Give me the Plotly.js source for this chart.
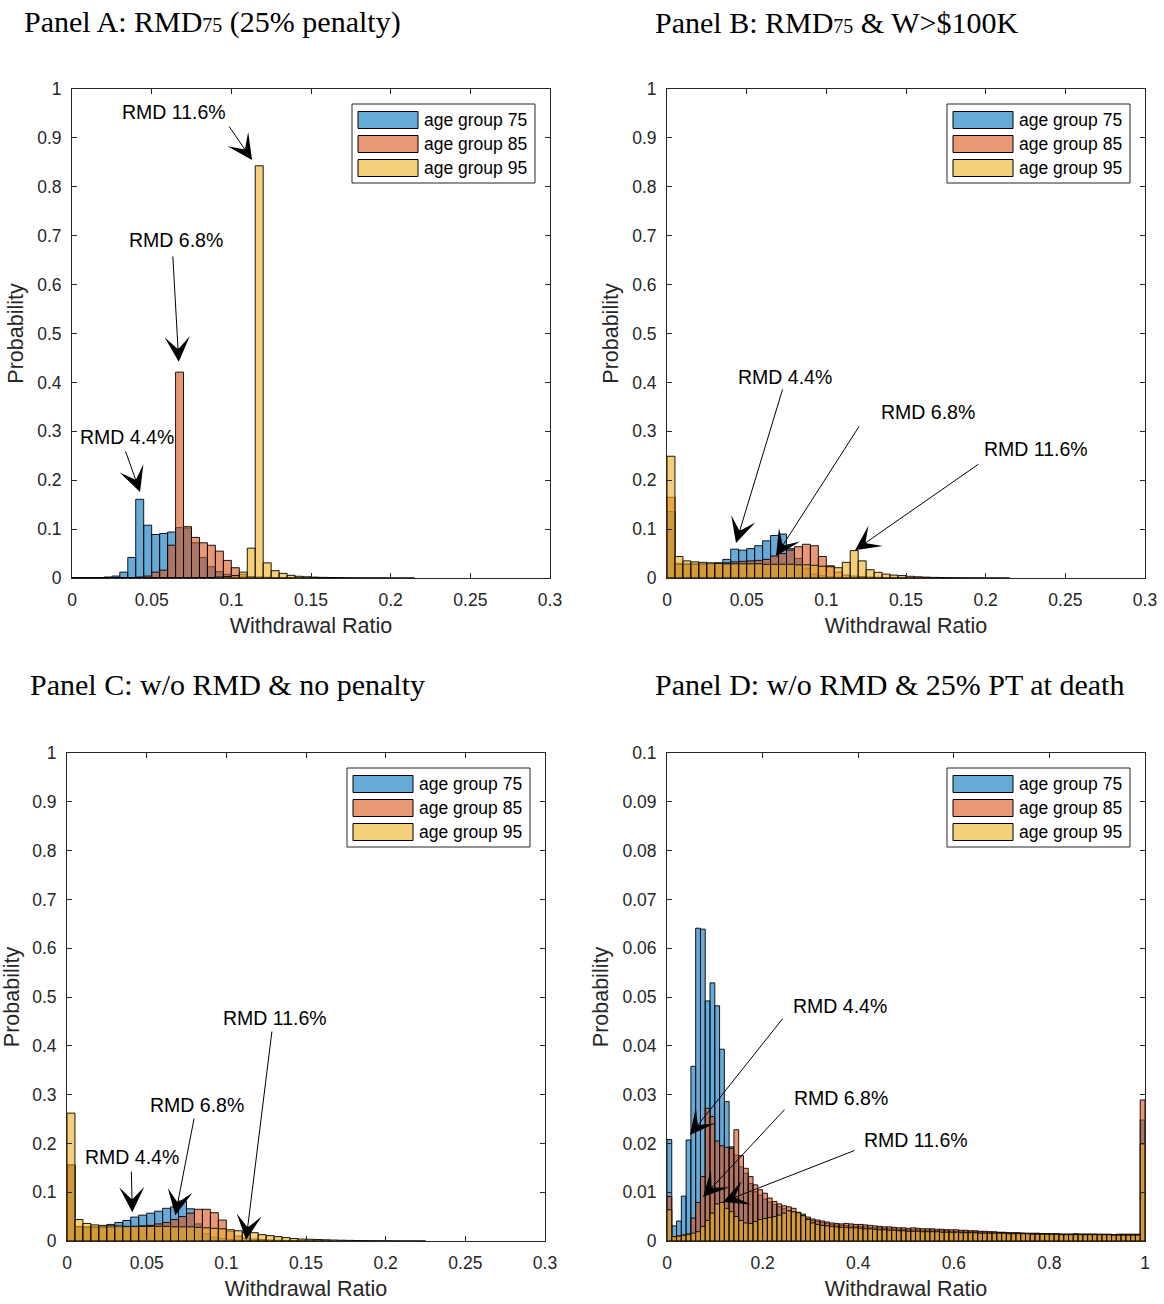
<!DOCTYPE html>
<html>
<head>
<meta charset="utf-8">
<script src="https://cdn.plot.ly/plotly-3.0.1.min.js"></script>
<style>
html,body{margin:0;padding:0;background:#fff;}
#chart{width:1164px;height:1304px;}
</style>
</head>
<body>
<div id="chart"></div>
<script>
// ---------------- DATA ----------------
const seriesNames = ['age group 75', 'age group 85', 'age group 95'];
const rmdLabels = ['RMD 4.4%', 'RMD 6.8%', 'RMD 11.6%'];

// bin widths of the histograms (withdrawal ratio)
const binWidthNarrow = 0.005;   // panels A, B, C (0 .. 0.3)
const binWidthWide = 0.01;      // panel D (0 .. 1)

// Panel A: RMD75 (25% penalty)
const panelA_age75 = [0,0,0,0.0005,0.002,0.004,0.012,0.042,0.161,0.108,
  0.089,0.091,0.094,0.103,0.102,0.072,0.042,0.023,0.013,0.0075,
  0.004,0.0025,0.0015,0.001,0.0008,0.0005,0.0004,0.0003,0.0002,0.0002,
  0.0001,0.0001,0.0001];
const panelA_age85 = [0,0,0,0,0,0,0.0005,0.001,0.002,0.004,
  0.012,0.016,0.067,0.421,0.105,0.083,0.072,0.067,0.055,0.036,
  0.021,0.0075,0.003,0.002,0.0015,0.001,0.0008,0.0006,0.0004,0.0003,
  0.0002,0.0002,0.0001,0.0001];
const panelA_age95 = [0,0,0,0,0,0,0,0,0,0,
  0,0,0,0,0,0,0.0005,0.001,0.002,0.003,
  0.005,0.012,0.061,0.843,0.031,0.015,0.0095,0.0055,0.0035,0.0025,
  0.0018,0.0013,0.001,0.0008,0.0006,0.0005,0.0004,0.0003,0.0003,0.0002,
  0.0002,0.0001,0.0001];

// Panel B: RMD75 & W>$100K
const panelB_age75 = [0.136,0.030,0.029,0.029,0.029,0.030,0.031,0.038,0.059,0.057,
  0.060,0.066,0.076,0.087,0.090,0.060,0.040,0.020,0.008,0.005,
  0.003,0.002,0.0015,0.001,0.0008,0.0005,0.0004,0.0003,0.0002,0.0001];
const panelB_age85 = [0.165,0.028,0.028,0.028,0.028,0.029,0.030,0.031,0.033,0.034,
  0.035,0.036,0.038,0.045,0.050,0.057,0.064,0.069,0.066,0.044,
  0.025,0.012,0.006,0.004,0.003,0.002,0.0015,0.001,0.0008,0.0005,
  0.0003,0.0002,0.0001];
const panelB_age95 = [0.249,0.044,0.035,0.033,0.032,0.031,0.030,0.029,0.029,0.029,
  0.029,0.029,0.028,0.028,0.028,0.028,0.027,0.027,0.026,0.024,
  0.023,0.021,0.032,0.056,0.035,0.017,0.0116,0.008,0.006,0.005,
  0.0035,0.0025,0.0018,0.0013,0.001,0.0008,0.0006,0.0005,0.0004,0.0003,
  0.0002,0.0002,0.0001];

// Panel C: w/o RMD & no penalty
const panelC_age75 = [0.155,0.028,0.028,0.029,0.030,0.034,0.038,0.042,0.049,0.053,
  0.057,0.061,0.067,0.070,0.082,0.066,0.035,0.015,0.008,0.005,
  0.003,0.002,0.0015,0.001,0.0008,0.0005,0.0004,0.0003,0.0002,0.0001];
const panelC_age85 = [0.156,0.030,0.029,0.028,0.028,0.028,0.029,0.029,0.030,0.031,
  0.032,0.035,0.038,0.044,0.050,0.057,0.065,0.065,0.058,0.043,
  0.020,0.010,0.006,0.004,0.003,0.002,0.0015,0.001,0.0008,0.0005,
  0.0003,0.0002,0.0001];
const panelC_age95 = [0.262,0.044,0.036,0.033,0.032,0.031,0.031,0.030,0.030,0.030,
  0.030,0.030,0.030,0.029,0.029,0.029,0.028,0.027,0.026,0.025,
  0.023,0.021,0.018,0.017,0.013,0.011,0.009,0.007,0.005,0.004,
  0.0035,0.003,0.0025,0.002,0.0016,0.0013,0.001,0.0008,0.0006,0.0005,
  0.0004,0.0003,0.0002,0.0002,0.0001];

// Panel D: w/o RMD & 25% PT at death
const panelD_age75 = [0.0208,0.0031,0.0041,0.0092,0.0207,0.0358,0.0641,0.0639,0.0492,0.0529,
  0.0482,0.0393,0.0286,0.0193,0.0176,0.0152,0.0139,0.0118,0.0101,0.0094,
  0.0086,0.0080,0.0075,0.0070,0.0066,0.0062,0.0059,0.0055,0.0051,0.0046,
  0.0042,0.0040,0.0038,0.0036,0.0034,0.0033,0.0032,0.0032,0.0031,0.0030,
  0.0030,0.0029,0.0028,0.0027,0.0027,0.0026,0.0025,0.0025,0.0024,0.0024,
  0.0023,0.0023,0.0023,0.0022,0.0022,0.0022,0.0021,0.0021,0.0021,0.0020,
  0.0020,0.0020,0.0019,0.0019,0.0019,0.0018,0.0018,0.0018,0.0017,0.0017,
  0.0017,0.0016,0.0016,0.0016,0.0016,0.0015,0.0015,0.0015,0.0015,0.0015,
  0.0014,0.0014,0.0014,0.0014,0.0014,0.0014,0.0014,0.0014,0.0014,0.0014,
  0.0013,0.0013,0.0013,0.0013,0.0013,0.0013,0.0013,0.0013,0.0013,0.0248];
const panelD_age85 = [0.0091,0.0009,0.0010,0.0012,0.0014,0.0047,0.0079,0.0132,0.0272,0.0255,
  0.0205,0.0195,0.0192,0.0190,0.0228,0.0175,0.0149,0.0132,0.0115,0.0105,
  0.0098,0.0088,0.0081,0.0076,0.0072,0.0070,0.0067,0.0059,0.0055,0.0049,
  0.0045,0.0043,0.0041,0.0039,0.0037,0.0036,0.0035,0.0036,0.0035,0.0034,
  0.0034,0.0033,0.0032,0.0031,0.0030,0.0029,0.0029,0.0028,0.0027,0.0027,
  0.0026,0.0027,0.0026,0.0025,0.0025,0.0025,0.0024,0.0024,0.0023,0.0023,
  0.0023,0.0022,0.0022,0.0021,0.0021,0.0020,0.0020,0.0019,0.0019,0.0018,
  0.0018,0.0017,0.0017,0.0017,0.0016,0.0016,0.0016,0.0016,0.0015,0.0015,
  0.0015,0.0015,0.0014,0.0014,0.0014,0.0015,0.0014,0.0014,0.0014,0.0014,
  0.0014,0.0014,0.0014,0.0013,0.0014,0.0014,0.0014,0.0014,0.0014,0.0289];
const panelD_age95 = [0.0064,0.0009,0.0010,0.0012,0.0014,0.0016,0.0019,0.0030,0.0042,0.0057,
  0.0076,0.0079,0.0067,0.0060,0.0050,0.0042,0.0037,0.0036,0.0040,0.0044,
  0.0046,0.0048,0.0050,0.0053,0.0057,0.0062,0.0060,0.0058,0.0052,0.0044,
  0.0037,0.0034,0.0032,0.0031,0.0030,0.0029,0.0028,0.0028,0.0027,0.0027,
  0.0026,0.0025,0.0025,0.0024,0.0023,0.0023,0.0022,0.0022,0.0021,0.0021,
  0.0020,0.0020,0.0020,0.0019,0.0019,0.0019,0.0019,0.0018,0.0018,0.0018,
  0.0018,0.0017,0.0017,0.0017,0.0017,0.0016,0.0016,0.0016,0.0016,0.0016,
  0.0016,0.0015,0.0015,0.0015,0.0015,0.0015,0.0014,0.0014,0.0014,0.0014,
  0.0014,0.0014,0.0013,0.0013,0.0013,0.0013,0.0013,0.0013,0.0013,0.0013,
  0.0013,0.0013,0.0013,0.0012,0.0012,0.0012,0.0012,0.0012,0.0012,0.0199];

// tick labels
const tickValsRatio = [0, 0.05, 0.1, 0.15, 0.2, 0.25, 0.3];
const tickTextRatio = ['0', '0.05', '0.1', '0.15', '0.2', '0.25', '0.3'];
const tickValsProb = [0, 0.1, 0.2, 0.3, 0.4, 0.5, 0.6, 0.7, 0.8, 0.9, 1];
const tickTextProb = ['0', '0.1', '0.2', '0.3', '0.4', '0.5', '0.6', '0.7', '0.8', '0.9', '1'];
const tickValsRatioD = [0, 0.2, 0.4, 0.6, 0.8, 1];
const tickTextRatioD = ['0', '0.2', '0.4', '0.6', '0.8', '1'];
const tickValsProbD = [0, 0.01, 0.02, 0.03, 0.04, 0.05, 0.06, 0.07, 0.08, 0.09, 0.1];
const tickTextProbD = ['0', '0.01', '0.02', '0.03', '0.04', '0.05', '0.06', '0.07', '0.08', '0.09', '0.1'];

// annotation arrows: [label index, tip x, tip y] per panel
const annotA = { label: [2, 1, 0], tipX: [0.113, 0.067, 0.0427], tipY: [0.855, 0.442, 0.176],
  textX: [0.064, 0.0653, 0.0345], textY: [0.953, 0.691, 0.288] };
const annotB = { label: [0, 1, 2], tipX: [0.0433, 0.0684, 0.118], tipY: [0.0716, 0.045, 0.057],
  textX: [0.0741, 0.1638, 0.2316], textY: [0.411, 0.339, 0.263] };
const annotC = { label: [2, 1, 0], tipX: [0.1124, 0.068, 0.041], tipY: [0.002, 0.053, 0.059],
  textX: [0.1305, 0.0816, 0.0408], textY: [0.457, 0.279, 0.172] };
const annotD = { label: [0, 1, 2], tipX: [0.048, 0.0753, 0.117], tipY: [0.0217, 0.009, 0.008],
  textX: [0.362, 0.364, 0.521], textY: [0.0482, 0.0293, 0.0207] };

// ---------------- STYLE ----------------
const W = 1164, H = 1304;
const px = v => v / W;
const py = v => 1 - v / H;
const fillColors = ['rgba(0,114,189,0.6)', 'rgba(217,83,25,0.6)', 'rgba(237,177,32,0.6)'];
const edgeColor = 'rgba(0,0,0,0.9)';
const sans = 'Liberation Sans, Arial, Helvetica, sans-serif';
const serif = 'Liberation Serif, Times New Roman, serif';
const axisColor = '#262626';

const panels = [
  { id: '', data: [panelA_age75, panelA_age85, panelA_age95], bw: binWidthNarrow, ann: annotA,
    title: 'Panel A: RMD<span style="font-size:20px">75</span> (25% penalty)', titlePos: [22, 22],
    xdom: [72, 550], ydom: [89, 578], xr: [0, 0.3], yr: [0, 1],
    xt: [tickValsRatio, tickTextRatio], yt: [tickValsProb, tickTextProb],
    offs: [[-24, -35], [-6, -107], [-15, -42]] },
  { id: '2', data: [panelB_age75, panelB_age85, panelB_age95], bw: binWidthNarrow, ann: annotB,
    title: 'Panel B: RMD<span style="font-size:20px">75</span> &amp; W&gt;$100K', titlePos: [653, 22],
    xdom: [667, 1145], ydom: [89, 578], xr: [0, 0.3], yr: [0, 1],
    xt: [tickValsRatio, tickTextRatio], yt: [tickValsProb, tickTextProb],
    offs: [[47, -155], [84, -131], [125, -87]] },
  { id: '3', data: [panelC_age75, panelC_age85, panelC_age95], bw: binWidthNarrow, ann: annotC,
    title: 'Panel C: w/o RMD &amp; no penalty', titlePos: [28, 684],
    xdom: [67, 545], ydom: [753, 1241], xr: [0, 0.3], yr: [0, 1],
    xt: [tickValsRatio, tickTextRatio], yt: [tickValsProb, tickTextProb],
    offs: [[26, -210], [19, -98], [-1, -42]] },
  { id: '4', data: [panelD_age75, panelD_age85, panelD_age95], bw: binWidthWide, ann: annotD,
    title: 'Panel D: w/o RMD &amp; 25% PT at death', titlePos: [653, 684],
    xdom: [667, 1145], ydom: [753, 1241], xr: [0, 1], yr: [0, 0.1],
    xt: [tickValsRatioD, tickTextRatioD], yt: [tickValsProbD, tickTextProbD],
    offs: [[94, -118], [83, -89], [133, -52]] }
];

const traces = [];
const annotations = [];
const shapes = [];
const layout = {
  width: W, height: H,
  margin: { l: 0, r: 0, t: 0, b: 0 },
  paper_bgcolor: '#fff', plot_bgcolor: '#fff',
  barmode: 'overlay',
  showlegend: false,
  font: { family: sans, color: '#000' }
};

panels.forEach(p => {
  const xa = 'x' + p.id, ya = 'y' + p.id;
  p.data.forEach((vals, i) => {
    traces.push({
      type: 'bar', name: seriesNames[i], xaxis: xa, yaxis: ya,
      y: vals, x0: p.bw / 2, dx: p.bw, width: p.bw,
      marker: { color: fillColors[i], line: { color: edgeColor, width: 1 } },
      hoverinfo: 'x+y+name'
    });
  });
  const common = {
    showline: true, linecolor: axisColor, linewidth: 1, mirror: 'ticks',
    ticks: 'inside', ticklen: 5, tickcolor: axisColor, tickwidth: 1,
    showgrid: false, zeroline: false, fixedrange: true,
    tickfont: { family: sans, size: 17.5, color: axisColor }
  };
  layout['xaxis' + p.id] = Object.assign({}, common, {
    domain: [px(p.xdom[0]), px(p.xdom[1])], anchor: ya, range: p.xr,
    tickmode: 'array', tickvals: p.xt[0], ticktext: p.xt[1], ticklabelstandoff: 6,
    title: { text: 'Withdrawal Ratio', font: { family: sans, size: 21.5, color: axisColor }, standoff: 8 }
  });
  layout['yaxis' + p.id] = Object.assign({}, common, {
    domain: [py(p.ydom[1]), py(p.ydom[0])], anchor: xa, range: p.yr,
    tickmode: 'array', tickvals: p.yt[0], ticktext: p.yt[1], ticklabelstandoff: 6,
    title: { text: 'Probability', font: { family: sans, size: 21.5, color: axisColor }, standoff: 7 }
  });
  // panel title
  annotations.push({
    xref: 'paper', yref: 'paper', x: px(p.titlePos[0]), y: py(p.titlePos[1]),
    xanchor: 'left', yanchor: 'middle', showarrow: false, text: p.title,
    font: { family: serif, size: 30, color: '#000' }
  });
  // RMD annotations
  p.ann.label.forEach((li, j) => {
    annotations.push({
      xref: xa, yref: ya, x: p.ann.textX[j], y: p.ann.textY[j],
      text: rmdLabels[li], showarrow: false, xanchor: 'center', yanchor: 'middle',
      font: { family: sans, size: 19.5, color: '#000' }
    });
    annotations.push({
      xref: xa, yref: ya, x: p.ann.tipX[j], y: p.ann.tipY[j], text: '',
      showarrow: true, arrowhead: 3, arrowsize: 4.2, arrowwidth: 1, arrowcolor: '#000',
      ax: p.offs[j][0], ay: p.offs[j][1], standoff: 0
    });
  });
  // legend (MATLAB style box, northeast)
  const boxR = p.xdom[1] - 15, boxT = p.ydom[0] + 15;
  const boxL = boxR - 183, boxB = boxT + 79;
  shapes.push({ type: 'rect', xref: 'paper', yref: 'paper', layer: 'above',
    x0: px(boxL), x1: px(boxR), y0: py(boxB), y1: py(boxT),
    fillcolor: '#fff', line: { color: axisColor, width: 1 } });
  seriesNames.forEach((nm, i) => {
    const cy = boxT + 16 + 24 * i;
    shapes.push({ type: 'rect', xref: 'paper', yref: 'paper', layer: 'above',
      x0: px(boxL + 6), x1: px(boxL + 66), y0: py(cy + 8.5), y1: py(cy - 8.5),
      fillcolor: fillColors[i], line: { color: '#000', width: 1 } });
    annotations.push({ xref: 'paper', yref: 'paper', x: px(boxL + 70), y: py(cy),
      xanchor: 'left', yanchor: 'middle', showarrow: false, text: nm,
      font: { family: sans, size: 17.5, color: '#000' } });
  });
});

layout.annotations = annotations;
layout.shapes = shapes;

Plotly.newPlot('chart', traces, layout, { staticPlot: true, displayModeBar: false });
</script>
</body>
</html>
